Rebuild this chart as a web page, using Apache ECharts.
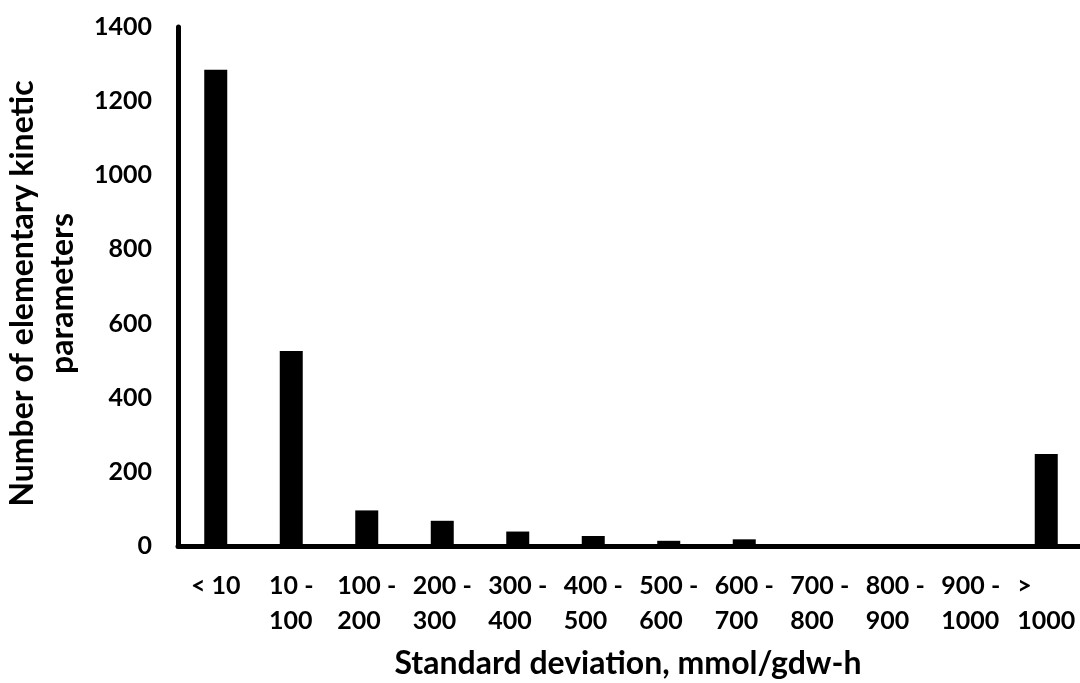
<!DOCTYPE html>
<html>
<head>
<meta charset="utf-8">
<script src="https://cdn.jsdelivr.net/npm/echarts@6/dist/echarts.min.js"></script>
<style>
html,body{margin:0;padding:0;background:#fff;}
#chart{width:1080px;height:683px;}
</style>
</head>
<body>
<div id="chart"></div>
<script>
var categories = ['< 10', '10 -\n100', '100 -\n200', '200 -\n300', '300 -\n400', '400 -\n500', '500 -\n600', '600 -\n700', '700 -\n800', '800 -\n900', '900 -\n1000', '>\n1000'];
var values = [1285, 526, 96, 68, 39, 27, 14, 18, 0, 0, 0, 248];
var yTicks = [0, 200, 400, 600, 800, 1000, 1200, 1400];

var FONT = 'Lato';
var chart = echarts.init(document.getElementById('chart'));
chart.setOption({
  backgroundColor: '#ffffff',
  animation: false,
  grid: {left: 178, right: -4, top: 27, bottom: 137, containLabel: false, outerBoundsMode: 'none'},
  xAxis: {
    type: 'category',
    data: categories,
    axisLine: {lineStyle: {color: '#000', width: 5}},
    axisTick: {show: false},
    axisLabel: {
      interval: 0,
      margin: 22,
      formatter: function (v) {
        return v.split('\n').map(function (s) { return '{a|' + s + '}'; }).join('\n');
      },
      rich: {a: {align: 'left', fontFamily: FONT, fontWeight: 'bold', fontSize: 25, color: '#000', lineHeight: 35}}
    },
    name: 'Standard deviation, mmol/gdw-h',
    nameLocation: 'middle',
    nameGap: 102,
    nameTextStyle: {fontFamily: FONT, fontWeight: 'bold', fontSize: 32, color: '#000', lineHeight: 31, padding: [0, 6, 0, 0]}
  },
  yAxis: {
    type: 'value',
    min: 0,
    max: 1400,
    interval: 200,
    splitLine: {show: false},
    axisLine: {show: true, lineStyle: {color: '#000', width: 5}},
    axisTick: {show: false},
    axisLabel: {
      margin: 26,
      fontFamily: FONT, fontWeight: 'bold', fontSize: 25, color: '#000',
      formatter: function (v) { return yTicks.indexOf(v) >= 0 ? String(v) : ''; }
    },
    name: 'Number of elementary kinetic\nparameters',
    nameLocation: 'middle',
    nameRotate: 90,
    nameGap: 90,
    nameTextStyle: {fontFamily: FONT, fontWeight: 'bold', fontSize: 32, color: '#000', lineHeight: 40, padding: [0, 14, 0, 0]}
  },
  series: [{
    type: 'bar',
    data: values,
    barWidth: 23,
    itemStyle: {color: '#000'}
  }]
});
</script>
</body>
</html>
